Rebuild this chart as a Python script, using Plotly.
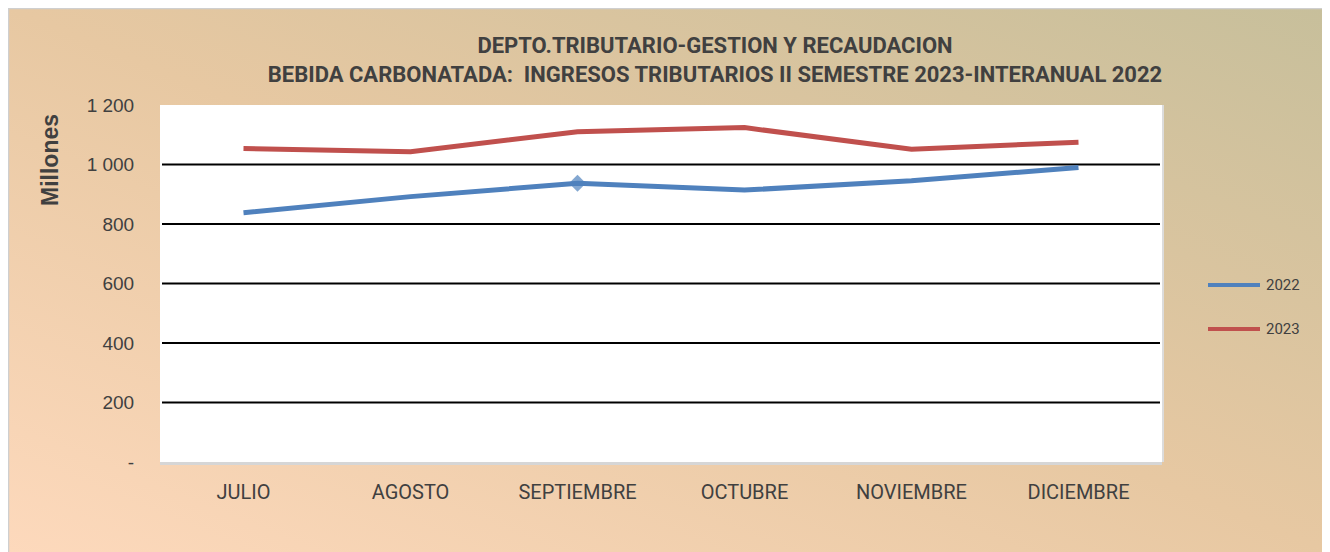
import base64
import plotly.graph_objects as go

# ---------------- data ----------------
months = ["JULIO", "AGOSTO", "SEPTIEMBRE", "OCTUBRE", "NOVIEMBRE", "DICIEMBRE"]
values_2022 = [838, 892, 937, 914, 945, 990]
values_2023 = [1054, 1043, 1110, 1124, 1051, 1075]
series_names = ["2022", "2023"]
series_colors = ["#4f81bd", "#c0504d"]
y_tickvals = [0, 200, 400, 600, 800, 1000, 1200]
y_ticktext = ["-", "200", "400", "600", "800", "1 000", "1 200"]
grid_vals = [200, 400, 600, 800, 1000]
marker_sizes_2022 = [0, 0, 13, 0, 0, 0]

title_line1 = "DEPTO.TRIBUTARIO-GESTION Y RECAUDACION"
title_line2 = "BEBIDA CARBONATADA:\u00a0 INGRESOS TRIBUTARIOS II SEMESTRE 2023-INTERANUAL 2022"

# ---------------- geometry ----------------
OFF = 8                      # page body margin
W, H = 1330 - OFF, 552 - OFF
L = 160 - OFF
T = 105 - OFF
R = W - (1162 - OFF)
B = H - (462 - OFF)
PW, PH = W - L - R, H - T - B


def pxx(px):
    """reference page x -> paper x"""
    return (px - OFF - L) / PW


def pxy(py):
    """reference page y -> paper y"""
    return (H - B - (py - OFF)) / PH


TXT = "#404040"
SANS = "Roboto"

# background gradient as an SVG image
svg = (
    '<svg xmlns="http://www.w3.org/2000/svg" width="1322" height="544" '
    'viewBox="0 0 1322 544" preserveAspectRatio="none">'
    '<defs><linearGradient id="g" x1="0" y1="1" x2="1" y2="0">'
    '<stop offset="0" stop-color="#fdd9bc"/>'
    '<stop offset="0.5" stop-color="#e7c8a2"/>'
    '<stop offset="1" stop-color="#c7bf9b"/>'
    '</linearGradient></defs>'
    '<rect x="0" y="0" width="1322" height="544" fill="url(#g)"/></svg>'
)
bg_src = "data:image/svg+xml;base64," + base64.b64encode(svg.encode()).decode()

fig = go.Figure()

fig.add_trace(go.Scatter(
    x=months, y=values_2022, name=series_names[0], mode="lines+markers",
    line=dict(color=series_colors[0], width=5),
    marker=dict(symbol="diamond", size=marker_sizes_2022, color=series_colors[0],
                line=dict(width=0)),
    showlegend=False,
))
fig.add_trace(go.Scatter(
    x=months, y=values_2023, name=series_names[1], mode="lines",
    line=dict(color=series_colors[1], width=5),
    showlegend=False,
))

shapes = []
# white plot area (above the background image)
shapes.append(dict(type="rect", xref="paper", yref="paper", x0=0, x1=1, y0=0, y1=1,
                   fillcolor="white", line=dict(width=0), layer="below"))
# horizontal gridlines
for v in grid_vals:
    shapes.append(dict(type="line", xref="paper", yref="y",
                       x0=pxx(162), x1=pxx(1160), y0=v, y1=v,
                       line=dict(color="black", width=2), layer="below"))
# right edge of plot area
shapes.append(dict(type="line", xref="paper", yref="paper", x0=1.001, x1=1.001,
                   y0=0, y1=1, line=dict(color="#dcdcdc", width=2)))
# outer frame (left / top edge)
shapes.append(dict(type="rect", xref="paper", yref="paper",
                   x0=pxx(8.5), x1=pxx(1326.5), y0=pxy(560), y1=pxy(8.5),
                   line=dict(color="#cfcfcf", width=1.5), layer="below"))

# custom legend
annotations = []
legend_y = [285, 329]
for name, col, ly in zip(series_names, series_colors, legend_y):
    shapes.append(dict(type="line", xref="paper", yref="paper",
                       x0=pxx(1208), x1=pxx(1260), y0=pxy(ly), y1=pxy(ly),
                       line=dict(color=col, width=4)))
    annotations.append(dict(text=name, xref="paper", yref="paper",
                            x=pxx(1264), y=pxy(ly), xanchor="left", yanchor="middle",
                            showarrow=False, font=dict(family=SANS, size=15, color=TXT)))

annotations.append(dict(text="<b>Millones</b>", xref="paper", yref="paper",
                        x=pxx(50), y=pxy(160), textangle=-90, showarrow=False,
                        xanchor="center", yanchor="middle",
                        font=dict(family="Liberation Sans", size=23, color=TXT)))

fig.update_layout(
    width=W, height=H,
    margin=dict(l=L, r=R, t=T, b=B),
    paper_bgcolor="white",
    plot_bgcolor="white",
    title=dict(text="<b>" + title_line1 + "<br>" + title_line2 + "</b>",
               x=(715 - OFF) / W, xanchor="center", y=1 - (53 - OFF) / H, yanchor="middle",
               font=dict(family=SANS, size=22, color=TXT)),
    images=[dict(source=bg_src, xref="paper", yref="paper",
                 x=pxx(OFF), y=pxy(OFF), sizex=W / PW, sizey=H / PH,
                 sizing="stretch", xanchor="left", yanchor="top", layer="below")],
    shapes=shapes,
    annotations=annotations,
    xaxis=dict(type="category", range=[-0.5, 5.5], showgrid=False, zeroline=False,
               showline=True, linecolor="#d6d6d6", linewidth=3,
               ticks="outside", ticklen=10, tickcolor="rgba(0,0,0,0)",
               tickfont=dict(family=SANS, size=20, color=TXT)),
    yaxis=dict(range=[0, 1200], tickvals=y_tickvals, ticktext=y_ticktext,
               showgrid=False, zeroline=False, showline=False,
               ticks="outside", ticklen=21, tickcolor="rgba(0,0,0,0)",
               tickfont=dict(family="Liberation Sans", size=19, color=TXT)),
)

fig.write_html("out.html")
